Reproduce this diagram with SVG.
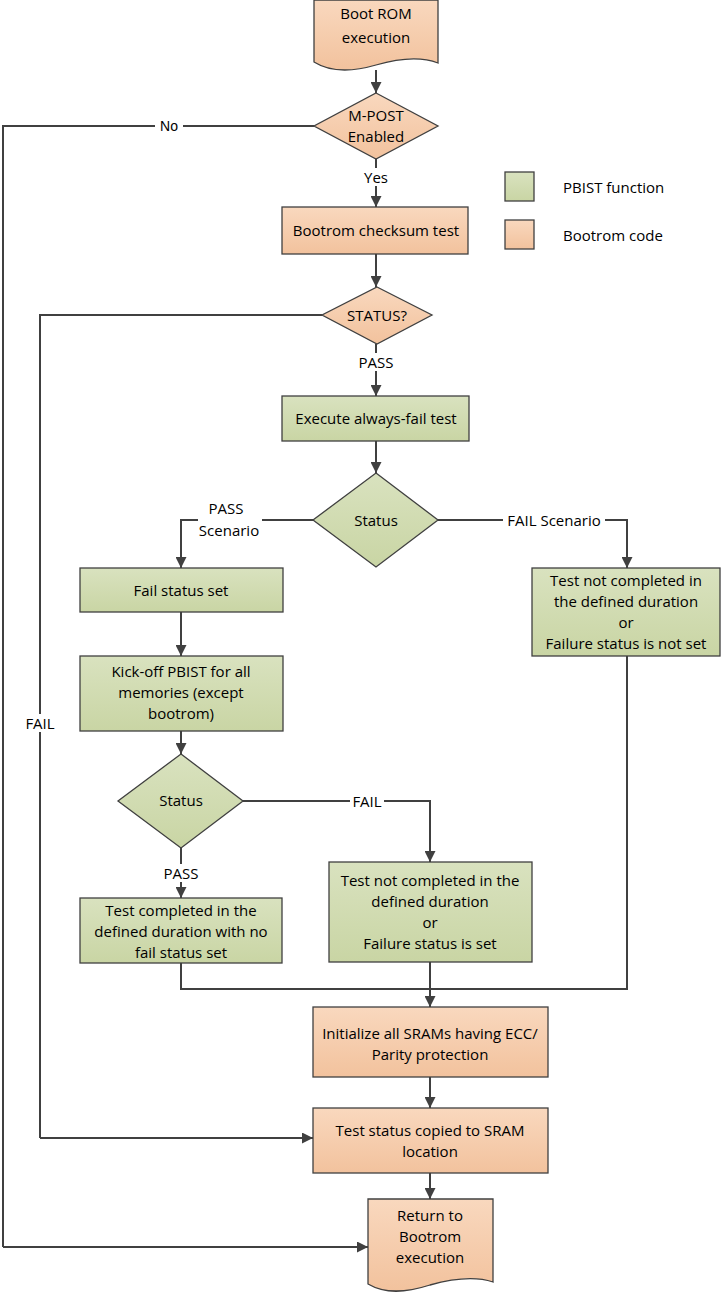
<svg xmlns="http://www.w3.org/2000/svg" width="721" height="1294" viewBox="0 0 721 1294">
<defs>
<linearGradient id="og" x1="0" y1="0" x2="0" y2="1"><stop offset="0" stop-color="#F9D8BE"/><stop offset="1" stop-color="#F2C29D"/></linearGradient>
<linearGradient id="gg" x1="0" y1="0" x2="0" y2="1"><stop offset="0" stop-color="#D9E2BF"/><stop offset="1" stop-color="#C9D5A4"/></linearGradient>
<marker id="ah" viewBox="0 0 10 10" refX="10" refY="5" markerWidth="11" markerHeight="11" markerUnits="userSpaceOnUse" orient="auto"><path d="M0,0 L10,5 L0,10 Z" fill="#404040"/></marker>
<style>
.o{fill:url(#og);stroke:#404040;stroke-width:1.3}
.g{fill:url(#gg);stroke:#404040;stroke-width:1.3}
.c{fill:none;stroke:#404040;stroke-width:2}
.a{marker-end:url(#ah)}
text{font-family:"Open Sans","Liberation Sans",sans-serif;font-size:15px;fill:#000;text-anchor:middle;dominant-baseline:central}
.bg{fill:#fff;stroke:none}
.arial{font-family:"Liberation Sans",Arial,sans-serif;font-size:14px}
.st{text-anchor:start}
</style>
</defs>
<rect width="721" height="1294" fill="#fff"/>
<g id="connectors">
<path class="c a" d="M376,70 V93"/>
<path class="c" d="M314,126 H3 V1247"/>
<path class="c a" d="M3,1247 H368"/>
<path class="c a" d="M376,158 V207"/>
<path class="c a" d="M376,254 V287"/>
<path class="c" d="M322,315 H40 V1138"/>
<path class="c a" d="M40,1138 H313"/>
<path class="c a" d="M376,344 V396"/>
<path class="c a" d="M376,441 V473"/>
<path class="c a" d="M313,520 H181 V568"/>
<path class="c a" d="M438,520 H627 V568"/>
<path class="c a" d="M181,612 V656"/>
<path class="c a" d="M181,731 V754"/>
<path class="c a" d="M243,801 H430 V862"/>
<path class="c a" d="M181,848 V898"/>
<path class="c" d="M181,963 V989 H627 V656"/>
<path class="c a" d="M430,962 V1007"/>
<path class="c a" d="M430,1077 V1108"/>
<path class="c a" d="M430,1173 V1199"/>
<rect class="bg" x="155" y="117" width="28" height="18"/>
<text class="arial" x="169" y="126">No</text>
<rect class="bg" x="360" y="168" width="32" height="18"/>
<text x="376" y="177">Yes</text>
<rect class="bg" x="355" y="353" width="42" height="18"/>
<text x="376" y="362">PASS</text>
<rect class="bg" x="198" y="498" width="64" height="42"/>
<text x="226" y="508">PASS</text>
<text x="229" y="530">Scenario</text>
<rect class="bg" x="503" y="511" width="102" height="18"/>
<text x="554" y="520">FAIL Scenario</text>
<rect class="bg" x="350" y="792" width="34" height="18"/>
<text x="367" y="801">FAIL</text>
<rect class="bg" x="160" y="864" width="42" height="18"/>
<text x="181" y="873">PASS</text>
<rect class="bg" x="20" y="714" width="40" height="18"/>
<text x="40" y="723">FAIL</text>
</g>
<g id="bootrom-start">
<path class="o" d="M314,0 H438 V63 C420,56 400,58 376,65 C352,72 330,72 314,62 Z"/>
<text x="376" y="13">Boot ROM</text>
<text x="376" y="37">execution</text>
</g>
<g id="mpost">
<path class="o" d="M376,93 L438,126 L376,159 L314,126 Z"/>
<text x="376" y="115">M-POST</text>
<text x="376" y="136">Enabled</text>
</g>
<g id="legend">
<rect class="g" x="505" y="172" width="29" height="29"/>
<text class="st" x="563" y="187">PBIST function</text>
<rect class="o" x="505" y="220" width="29" height="29"/>
<text class="st" x="563" y="235">Bootrom code</text>
</g>
<g id="checksum">
<rect class="o" x="282" y="207" width="186" height="47"/>
<text x="376" y="230">Bootrom checksum test</text>
</g>
<g id="status1">
<path class="o" d="M377,287 L432,315 L377,344 L322,315 Z"/>
<text x="377" y="315">STATUS?</text>
</g>
<g id="alwaysfail">
<rect class="g" x="282" y="396" width="187" height="45"/>
<text x="376" y="418">Execute always-fail test</text>
</g>
<g id="status2">
<path class="g" d="M376,473 L438,520 L376,567 L313,520 Z"/>
<text x="376" y="520">Status</text>
</g>
<g id="failstatus">
<rect class="g" x="80" y="568" width="203" height="44"/>
<text x="181" y="590">Fail status set</text>
</g>
<g id="notcompleted1">
<rect class="g" x="532" y="568" width="188" height="88"/>
<text x="626" y="580">Test not completed in</text>
<text x="626" y="601">the defined duration</text>
<text x="626" y="622">or</text>
<text x="626" y="643">Failure status is not set</text>
</g>
<g id="kickoff">
<rect class="g" x="80" y="656" width="203" height="75"/>
<text x="181" y="671">Kick-off PBIST for all</text>
<text x="181" y="692">memories (except</text>
<text x="181" y="713">bootrom)</text>
</g>
<g id="status3">
<path class="g" d="M181,754 L243,801 L181,848 L118,801 Z"/>
<text x="181" y="800">Status</text>
</g>
<g id="completed">
<rect class="g" x="80" y="898" width="202" height="65"/>
<text x="181" y="910">Test completed in the</text>
<text x="181" y="931">defined duration with no</text>
<text x="181" y="952">fail status set</text>
</g>
<g id="notcompleted2">
<rect class="g" x="329" y="862" width="203" height="100"/>
<text x="430" y="880">Test not completed in the</text>
<text x="430" y="901">defined duration</text>
<text x="430" y="922">or</text>
<text x="430" y="943">Failure status is set</text>
</g>
<g id="initsram">
<rect class="o" x="313" y="1007" width="235" height="70"/>
<text x="430" y="1033">Initialize all SRAMs having ECC/</text>
<text x="430" y="1054">Parity protection</text>
</g>
<g id="copystatus">
<rect class="o" x="313" y="1108" width="235" height="65"/>
<text x="430" y="1130">Test status copied to SRAM</text>
<text x="430" y="1151">location</text>
</g>
<g id="return">
<path class="o" d="M368,1199 H493 V1282 C475,1276 455,1278 430,1285 C405,1293 385,1294 368,1284 Z"/>
<text x="430" y="1215">Return to</text>
<text x="430" y="1236">Bootrom</text>
<text x="430" y="1257">execution</text>
</g>
</svg>
